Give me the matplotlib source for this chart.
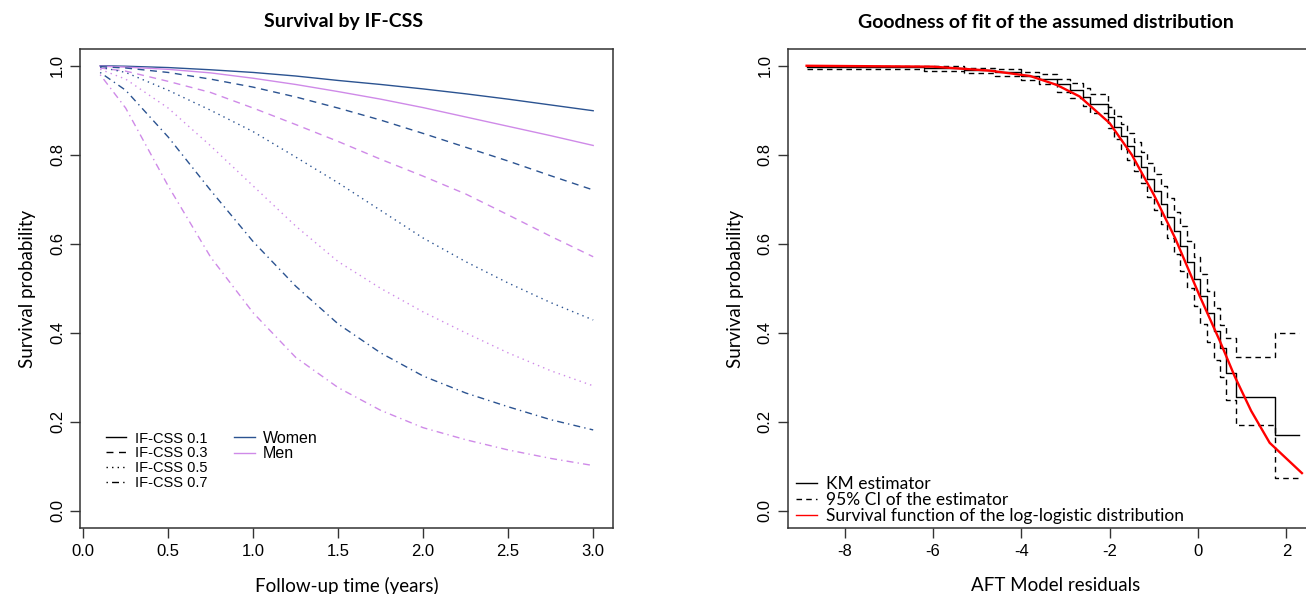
import numpy as np
import matplotlib
matplotlib.use("Agg")
import matplotlib.pyplot as plt

# ---- left panel: predicted survival by IF-CSS and sex ----
t = [0.1, 0.25, 0.5, 0.75, 1.0, 1.25, 1.5, 1.75, 2.0, 2.25, 2.5, 2.75, 3.0]

women_01 = [1.0, 0.999, 0.996, 0.991, 0.985, 0.977, 0.967, 0.958, 0.948, 0.937, 0.925, 0.912, 0.899]
men_01 = [0.999, 0.997, 0.992, 0.984, 0.972, 0.958, 0.942, 0.925, 0.906, 0.885, 0.864, 0.843, 0.821]
women_03 = [0.998, 0.995, 0.985, 0.970, 0.952, 0.930, 0.905, 0.878, 0.848, 0.817, 0.786, 0.753, 0.721]
men_03 = [0.995, 0.988, 0.965, 0.940, 0.905, 0.868, 0.830, 0.790, 0.752, 0.712, 0.665, 0.617, 0.571]
women_05 = [0.997, 0.985, 0.945, 0.900, 0.852, 0.795, 0.737, 0.675, 0.613, 0.560, 0.512, 0.468, 0.429]
men_05 = [0.992, 0.970, 0.905, 0.820, 0.730, 0.640, 0.560, 0.500, 0.447, 0.400, 0.355, 0.315, 0.281]
women_07 = [0.985, 0.945, 0.840, 0.720, 0.605, 0.505, 0.420, 0.355, 0.303, 0.265, 0.234, 0.205, 0.182]
men_07 = [0.980, 0.905, 0.730, 0.570, 0.445, 0.345, 0.277, 0.226, 0.187, 0.160, 0.137, 0.118, 0.102]

css_labels = ["IF-CSS 0.1", "IF-CSS 0.3", "IF-CSS 0.5", "IF-CSS 0.7"]
sex_labels = ["Women", "Men"]

# ---- right panel: KM of AFT residuals vs log-logistic fit ----
km_r = [-8.86, -6.2, -5.3, -4.6, -4.0, -3.6, -3.2, -2.9, -2.6, -2.45, -2.05, -1.9, -1.75, -1.6,
        -1.45, -1.3, -1.15, -1.0, -0.85, -0.7, -0.55, -0.4, -0.25, -0.1, 0.05, 0.2, 0.35, 0.5,
        0.64, 0.86, 1.74, 2.28]
km_s = [0.997, 0.994, 0.991, 0.985, 0.978, 0.970, 0.958, 0.945, 0.930, 0.915, 0.885, 0.862, 0.842, 0.820,
        0.797, 0.772, 0.745, 0.718, 0.690, 0.660, 0.628, 0.595, 0.560, 0.522, 0.483, 0.445, 0.405, 0.365,
        0.310, 0.257, 0.171, 0.171]
km_lo = [0.993, 0.988, 0.984, 0.977, 0.968, 0.958, 0.942, 0.927, 0.909, 0.893, 0.860, 0.835, 0.813, 0.789,
         0.764, 0.737, 0.706, 0.676, 0.645, 0.612, 0.577, 0.540, 0.500, 0.460, 0.420, 0.380, 0.340, 0.300,
         0.249, 0.193, 0.073, 0.073]
km_hi = [1.0, 1.0, 0.996, 0.993, 0.987, 0.981, 0.971, 0.962, 0.950, 0.936, 0.908, 0.888, 0.870, 0.850,
         0.829, 0.806, 0.781, 0.756, 0.730, 0.702, 0.672, 0.640, 0.607, 0.570, 0.532, 0.495, 0.456, 0.418,
         0.389, 0.345, 0.400, 0.400]

fit_r = [-8.86, -6.0, -4.71, -3.8, -3.2, -2.68, -2.0, -1.5, -1.0, -0.52, 0.04, 0.5, 0.83, 1.2, 1.62, 2.35]
fit_s = [1.0, 0.998, 0.989, 0.977, 0.957, 0.931, 0.871, 0.800, 0.710, 0.613, 0.482, 0.380, 0.302, 0.225, 0.153, 0.085]

blue = "#2b5391"
violet = "#cf8ae8"
styles = ["-", (0, (5, 4)), (0, (1, 3)), (0, (1, 3, 5, 3))]

tick_font = "Liberation Sans"
label_font = "Lato"

fig = plt.figure(figsize=(13.06, 5.94), dpi=100)
ax1 = fig.add_axes([0.0616, 0.1106, 0.4077, 0.8064])
ax2 = fig.add_axes([0.6034, 0.1106, 0.4104, 0.8064])

women = [women_01, women_03, women_05, women_07]
men = [men_01, men_03, men_05, men_07]
for i in range(4):
    ax1.plot(t, women[i], color=blue, lw=1.0, linestyle=styles[i])
    ax1.plot(t, men[i], color=violet, lw=1.0, linestyle=styles[i])

ax1.set_xlim(-0.016, 3.116)
ax1.set_xticks([0, 0.5, 1.0, 1.5, 2.0, 2.5, 3.0])
ax1.set_xticklabels(["0.0", "0.5", "1.0", "1.5", "2.0", "2.5", "3.0"])

# legends
h1 = [plt.Line2D([], [], color="black", lw=1.0, linestyle=s) for s in styles]
leg1 = ax1.legend(h1, css_labels, loc="upper left", bbox_to_anchor=(0.048, 0.202),
                  frameon=False, prop={"family": tick_font, "size": 10.5},
                  handlelength=1.4, handletextpad=0.6, labelspacing=0.06, borderpad=0,
                  borderaxespad=0)
ax1.add_artist(leg1)
h2 = [plt.Line2D([], [], color=blue, lw=1.0), plt.Line2D([], [], color=violet, lw=1.0)]
ax1.legend(h2, sex_labels, loc="upper left", bbox_to_anchor=(0.288, 0.204),
           frameon=False, prop={"family": tick_font, "size": 11.5},
           handlelength=1.3, handletextpad=0.5, labelspacing=0.05, borderpad=0,
           borderaxespad=0)

# right panel
ax2.step(km_r, km_lo, where="post", color="black", lw=1.0, linestyle=(0, (4, 3)))
ax2.step(km_r, km_hi, where="post", color="black", lw=1.0, linestyle=(0, (4, 3)))
ax2.step(km_r, km_s, where="post", color="black", lw=1.0)
ax2.plot(fit_r, fit_s, color="red", lw=1.7)

ax2.set_xlim(-9.28, 2.85)
ax2.set_xticks([-8, -6, -4, -2, 0, 2])
ax2.set_xticklabels(["-8", "-6", "-4", "-2", "0", "2"])

h3 = [plt.Line2D([], [], color="black", lw=1.0),
      plt.Line2D([], [], color="black", lw=1.0, linestyle=(0, (4, 3))),
      plt.Line2D([], [], color="red", lw=1.0)]
ax2.legend(h3, ["KM estimator", "95% CI of the estimator",
                "Survival function of the log-logistic distribution"],
           loc="lower left", bbox_to_anchor=(0.015, 0.008), frameon=False,
           prop={"family": label_font, "size": 12.5},
           handlelength=1.2, handletextpad=0.5, labelspacing=0.0, borderpad=0,
           borderaxespad=0)

for ax in [ax1, ax2]:
    ax.set_ylim(-0.039, 1.037)
    ax.set_yticks([0.0, 0.2, 0.4, 0.6, 0.8, 1.0])
    ax.set_yticklabels(["0.0", "0.2", "0.4", "0.6", "0.8", "1.0"], rotation=90, va="center")
    ax.tick_params(length=7, width=1, color="#333333", pad=4, labelsize=12)
    for lab in ax.get_xticklabels() + ax.get_yticklabels():
        lab.set_family(tick_font)
    for sp in ax.spines.values():
        sp.set_color("#333333")
        sp.set_linewidth(1.1)
    ax.set_ylabel("Survival probability", family=label_font, fontsize=13.5, labelpad=10)

ax1.set_xlabel("Follow-up time (years)", family=label_font, fontsize=13.5, labelpad=13)
ax2.set_xlabel("AFT Model residuals", family=label_font, fontsize=13.5, labelpad=13)

fig.text(344 / 1306, 1 - 22 / 594, "Survival by IF-CSS", family=label_font,
         fontweight="bold", fontsize=14, ha="center", va="center")
fig.text(1046 / 1306, 1 - 22 / 594, "Goodness of fit of the assumed distribution",
         family=label_font, fontweight="bold", fontsize=14, ha="center", va="center")

fig.savefig("out.png", dpi=100)
